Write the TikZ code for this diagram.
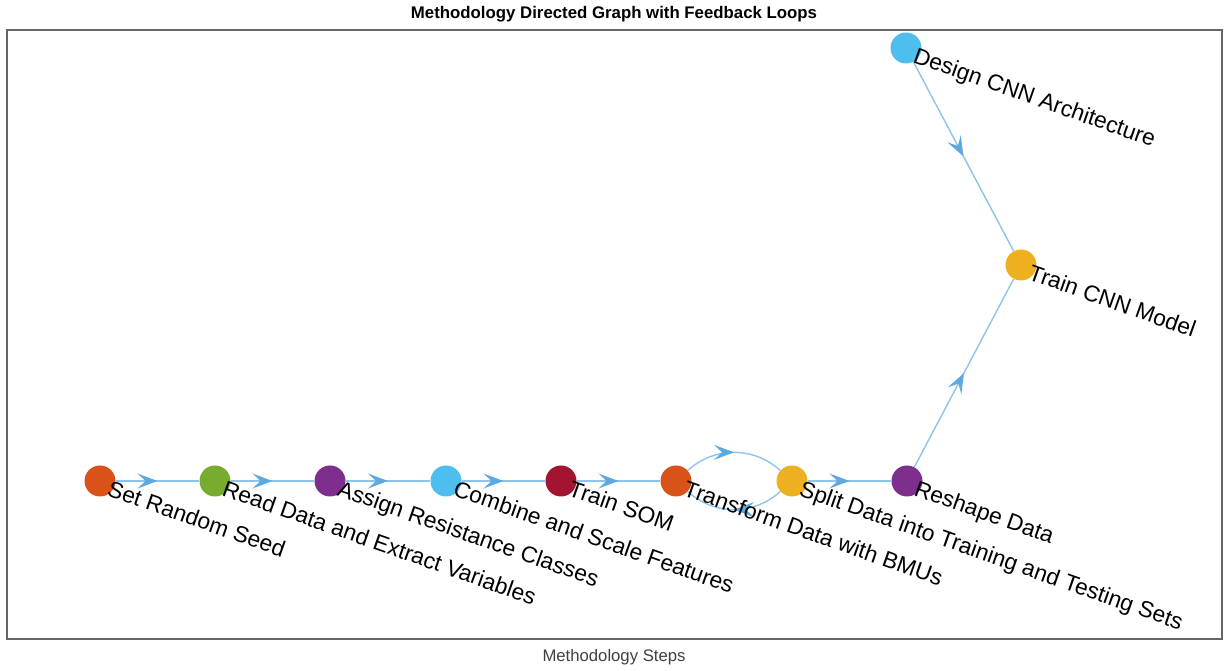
\documentclass[tikz,border=0pt]{standalone}
\usepackage{fontspec}
\setmainfont{Liberation Sans}
\usetikzlibrary{arrows.meta,decorations.markings}
\pgfdeclarelayer{edgelayer}
\pgfdeclarelayer{nodelayer}
\pgfsetlayers{edgelayer,nodelayer,main}
\definecolor{morange}{RGB}{217,83,25}
\definecolor{mgreen}{RGB}{119,172,48}
\definecolor{mpurple}{RGB}{126,47,142}
\definecolor{mcyan}{RGB}{77,190,238}
\definecolor{mred}{RGB}{162,20,47}
\definecolor{myellow}{RGB}{237,177,32}
\definecolor{eline}{RGB}{140,196,236}
\definecolor{ehead}{RGB}{94,170,224}
\definecolor{axgray}{RGB}{102,102,102}
\tikzstyle{circ}=[circle,inner sep=0pt,minimum size=31pt]
\tikzstyle{lbl}=[anchor=base west,inner sep=0pt,rotate=-19.5,font=\fontsize{22.8}{27}\selectfont]
\tikzstyle{flow}=[draw=eline,line width=1.4pt,postaction={decorate},
  decoration={markings,mark=at position 0.5 with {\arrow[ehead]{Stealth[length=20pt,width=15pt,inset=8pt]}}}]

\begin{document}
\begin{tikzpicture}[x=1pt,y=1pt]
\useasboundingbox (0,0) rectangle (1228,671);
\draw[axgray,line width=1.3pt] (7,32) rectangle (1222,641);
\node[font=\fontsize{16.8}{20}\bfseries] (title) at (614,657) {Methodology Directed Graph with Feedback Loops};
\node[font=\fontsize{16.7}{20}\selectfont,text=black!75] (xlab) at (614,14) {Methodology Steps};

% steps
\begin{pgfonlayer}{nodelayer}
\node[circ,fill=morange] (S) at (100,190) {};
\node[circ,fill=mgreen] (R) at (215,190) {};
\node[circ,fill=mpurple] (A) at (330,190) {};
\node[circ,fill=mcyan] (C) at (446,190) {};
\node[circ,fill=mred] (T) at (561,190) {};
\node[circ,fill=morange] (B) at (676,190) {};
\node[circ,fill=myellow] (P) at (792,190) {};
\node[circ,fill=mpurple] (H) at (907,190) {};
\node[circ,fill=mcyan] (D) at (906,623) {};
\node[circ,fill=myellow] (M) at (1021,406) {};
\end{pgfonlayer}

% edges
\begin{pgfonlayer}{edgelayer}
\path
(S) edge[flow] (R)
(R) edge[flow] (A)
(A) edge[flow] (C)
(C) edge[flow] (T)
(T) edge[flow] (B)
(B) edge[flow,bend left=42] (P)
(P) edge[flow,bend left=42] (B)
(P) edge[flow] (H)
(H) edge[flow] (M)
(D) edge[flow] (M);
\end{pgfonlayer}

% labels
\node[lbl] (S') at ([shift={(6,-14)}]S.center) {Set Random Seed};
\node[lbl] (R') at ([shift={(6,-14)}]R.center) {Read Data and Extract Variables};
\node[lbl] (A') at ([shift={(6,-14)}]A.center) {Assign Resistance Classes};
\node[lbl] (C') at ([shift={(6,-14)}]C.center) {Combine and Scale Features};
\node[lbl] (T') at ([shift={(6,-14)}]T.center) {Train SOM};
\node[lbl] (B') at ([shift={(6,-14)}]B.center) {Transform Data with BMUs};
\node[lbl] (P') at ([shift={(6,-14)}]P.center) {Split Data into Training and Testing Sets};
\node[lbl] (H') at ([shift={(6,-14)}]H.center) {Reshape Data};
\node[lbl] (D') at ([shift={(6,-14)}]D.center) {Design CNN Architecture};
\node[lbl] (M') at ([shift={(6,-14)}]M.center) {Train CNN Model};
\end{tikzpicture}
\end{document}
